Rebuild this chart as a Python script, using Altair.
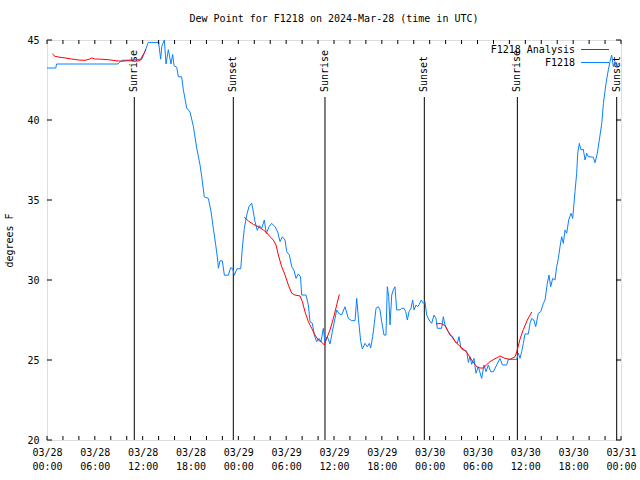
import altair as alt
import pandas as pd

TITLE = "Dew Point for F1218 on 2024-Mar-28 (time in UTC)"
Y_TITLE = "degrees F"
SERIES = ["F1218 Analysis", "F1218"]
COLORS = ["#ff0000", "#0a80ff"]
FONT = "DejaVu Sans Mono"

# hours since 2024-03-28 00:00 UTC
obs_hours = [0.0, 1.1, 1.2, 8.9, 9.1, 9.4, 10.5, 11.9, 12.3, 12.7, 14.0, 14.26, 14.4, 14.72,
             14.93, 15.22, 15.55, 15.76, 15.93, 16.27, 16.48, 16.89, 17.1, 17.52, 17.94, 18.36,
             18.78, 19.19, 19.4, 19.73, 20.24, 20.57, 20.87, 21.16, 21.41, 21.5, 21.7, 21.99,
             22.25, 22.75, 23.04, 23.3, 23.5, 23.83, 24.3, 24.5, 24.75, 25.05, 25.34, 25.67,
             25.8, 26.09, 26.38, 26.63, 26.93, 27.26, 27.51, 27.85, 28.18, 28.6, 28.94, 29.23,
             29.52, 29.86, 30.07, 30.4, 30.7, 30.98, 31.24, 31.53, 31.8, 31.95, 32.49, 32.78,
             32.99, 33.28, 33.53, 33.83, 34.12, 34.37, 34.66, 34.87, 35.16, 35.5, 35.79, 36.04,
             36.34, 36.63, 36.96, 37.38, 37.8, 38.22, 38.64, 38.85, 39.06, 39.35, 39.56, 39.89,
             40.18, 40.43, 40.6, 40.85, 41.06, 41.27, 41.56, 41.77, 41.98, 42.27, 42.52, 42.69,
             42.86, 43.03, 43.24, 43.44, 43.65, 43.86, 44.28, 44.49, 44.78, 45.0, 45.2, 45.41,
             45.66, 45.87, 46.04, 46.29, 46.5, 46.7, 46.95, 47.2, 47.41, 47.63, 47.92, 48.25,
             48.54, 48.79, 48.96, 49.5, 49.71, 49.92, 50.21, 50.55, 50.88, 51.18, 51.47, 51.68,
             51.93, 52.22, 52.64, 52.85, 53.06, 53.27, 53.56, 53.81, 54.1, 54.52, 54.82, 55.07,
             55.36, 55.65, 55.99, 56.41, 56.82, 57.12, 57.66, 57.87, 58.92, 59.12, 59.33, 59.54,
             59.75, 59.96, 60.38, 60.59, 60.8, 61.07, 61.3, 61.63, 61.93, 62.26, 62.47, 62.76,
             62.97, 63.18, 63.43, 63.72, 63.93, 64.14, 64.35, 64.56, 64.77, 64.98, 65.19, 65.44,
             65.73, 65.94, 66.23, 66.44, 66.57, 66.77, 66.98, 67.27, 67.49, 67.7, 67.9, 68.53,
             68.74, 69.03, 69.28, 69.59, 69.79, 70.12, 70.41, 70.62, 70.83, 71.04, 71.25, 71.46,
             71.71]
obs_vals = [43.25, 43.25, 43.5, 43.5, 43.6, 43.73, 43.75, 43.8, 44.3, 44.85, 44.85, 43.8, 44.6, 45.0,
            43.5, 44.4, 43.5, 44.1, 43.4, 43.3, 42.7, 42.7, 41.9, 40.75, 40.5, 39.6,
            38.25, 37.2, 36.5, 35.2, 35.1, 34.3, 33.2, 32.2, 31.25, 30.73, 31.2, 31.2,
            30.3, 30.3, 30.77, 30.7, 30.3, 30.7, 30.7, 32.0, 33.23, 34.06, 34.6, 34.8,
            34.5, 33.65, 33.1, 33.4, 33.23, 33.75, 32.9, 33.33, 33.54, 33.33, 33.0, 32.4,
            32.7, 32.5, 31.77, 31.56, 30.83, 30.6, 30.1, 30.38, 30.2, 29.06, 29.06, 28.44,
            27.4, 27.3, 26.56, 26.14, 26.35, 26.14, 26.98, 26.14, 26.46, 26.0, 26.77, 27.39,
            28.13, 27.9, 27.81, 28.33, 27.6, 27.46, 27.46, 28.85, 27.6, 26.15, 25.69, 26.04,
            25.83, 26.04, 25.75, 26.46, 27.29, 28.23, 28.33, 28.13, 27.4, 26.56, 26.56, 29.58,
            28.96, 27.19, 29.06, 29.38, 29.58, 28.13, 28.13, 28.23, 28.23, 28.02, 27.5, 28.02,
            28.23, 28.75, 28.13, 28.44, 28.33, 28.48, 28.75, 28.54, 28.65, 27.81, 27.5, 27.29,
            27.81, 27.6, 26.98, 26.98, 27.71, 27.19, 26.88, 26.56, 26.46, 26.15, 26.04, 26.46,
            25.73, 25.63, 25.56, 24.85, 25.21, 24.73, 25.1, 24.17, 24.58, 23.85, 24.69, 24.27,
            24.69, 24.27, 24.27, 24.69, 25.1, 24.69, 24.69, 25.04, 25.04, 25.42, 25.1, 25.52,
            26.04, 26.63, 26.63, 27.29, 27.6, 27.5, 27.08, 27.92, 28.02, 28.54, 28.75, 29.79,
            30.31, 29.58, 30.1, 30.0, 30.83, 31.35, 32.08, 32.71, 32.29, 33.13, 32.92, 33.75,
            34.17, 33.85, 35.52, 36.67, 37.92, 38.54, 38.13, 38.17, 37.5, 37.92, 37.71, 37.67,
            37.33, 37.92, 38.75, 39.79, 41.04, 42.29, 43.13, 43.65, 44.06, 43.33, 43.65, 43.33,
            43.54]

ana_hours_1 = [0.67, 1.0, 1.63, 2.26, 3.1, 3.93, 4.77, 5.3, 5.6, 6.0, 6.44, 7.69, 8.53, 9.37,
               10.2, 11.04, 11.67, 12.08, 12.42]
ana_vals_1 = [44.13, 43.98, 43.92, 43.88, 43.81, 43.75, 43.73, 43.8, 43.88, 43.81, 43.81, 43.77,
              43.71, 43.67, 43.71, 43.67, 43.71, 44.1, 44.4]
ana_hours_2 = [24.75, 25.25, 25.88, 26.51, 27.13, 27.51, 27.97, 28.39, 28.73, 29.02, 29.44, 29.86,
               30.27, 30.7, 31.1, 31.74, 32.03, 32.36, 32.78, 33.2, 33.62, 34.03, 34.46, 34.79,
               35.08, 35.5, 35.92, 36.34, 36.67]
ana_vals_2 = [33.92, 33.69, 33.48, 33.33, 33.13, 32.98, 32.71, 32.5, 32.19, 31.56, 30.83, 30.31,
              29.69, 29.17, 29.06, 29.0, 28.65, 28.02, 27.4, 26.98, 26.56, 26.25, 26.1, 25.94,
              26.35, 26.88, 27.6, 28.44, 29.1]
ana_hours_3 = [48.79, 49.38, 49.92, 50.34, 50.76, 51.39, 52.02, 52.64, 53.27, 53.9, 54.32, 54.73,
               55.57, 56.82, 57.45, 58.08, 58.7, 58.92, 59.33, 59.75, 60.25, 60.8]
ana_vals_3 = [27.25, 27.29, 27.15, 26.77, 26.46, 26.04, 25.77, 25.48, 25.0, 24.58, 24.5, 24.5,
              24.9, 25.25, 25.1, 25.04, 25.2, 25.5, 26.3, 26.9, 27.5, 28.0]

sun_hours = [10.95, 23.37, 34.87, 47.33, 59.0, 71.46]
sun_labels = ["Sunrise", "Sunset", "Sunrise", "Sunset", "Sunrise", "Sunset"]

x_label_hours = list(range(0, 73, 6))
x_tick_hours = list(range(0, 73, 2))
y_ticks = [20, 25, 30, 35, 40, 45]

obs_df = pd.DataFrame({"h": obs_hours, "v": obs_vals, "series": SERIES[1], "seg": 0})
ana_df = pd.concat([
    pd.DataFrame({"h": ana_hours_1, "v": ana_vals_1, "seg": 1}),
    pd.DataFrame({"h": ana_hours_2, "v": ana_vals_2, "seg": 2}),
    pd.DataFrame({"h": ana_hours_3, "v": ana_vals_3, "seg": 3}),
])
ana_df["series"] = SERIES[0]
sun_df = pd.DataFrame({"h": sun_hours, "label": sun_labels})
xt_df = pd.DataFrame({"h": x_tick_hours})
yt_df = pd.DataFrame({"v": y_ticks})

xs = alt.Scale(domain=[0, 72], nice=False, zero=False)
ys = alt.Scale(domain=[20, 45], nice=False, zero=False)
cs = alt.Scale(domain=SERIES, range=COLORS)

label_expr = ("['03/' + (28 + floor(datum.value / 24)), "
              "(datum.value % 24 < 10 ? '0' : '') + (datum.value % 24) + ':00']")

x_axis = alt.Axis(values=x_label_hours, labelExpr=label_expr, tickSize=0, domain=False,
                  grid=False, title=None, labelFont=FONT, labelFontSize=10, labelColor="black",
                  labelPadding=7, labelLineHeight=14, labelAngle=0, labelOverlap=False,
                  labelFlush=False)
y_axis = alt.Axis(values=y_ticks, tickSize=0, domain=False, grid=False, title=Y_TITLE,
                  titleFont=FONT, titleFontSize=10, titleFontWeight="normal", titleColor="black",
                  labelFont=FONT, labelFontSize=10, labelColor="black", labelPadding=8,
                  titlePadding=12)

sun_rules = alt.Chart(sun_df).mark_rule(color="black", strokeWidth=1).encode(
    x=alt.X("h:Q", scale=xs, axis=x_axis),
    y=alt.value(57), y2=alt.value(400))
sun_text = alt.Chart(sun_df).mark_text(angle=270, align="left", baseline="middle",
                                       font=FONT, fontSize=10, color="black").encode(
    x=alt.X("h:Q", scale=xs), y=alt.value(52), text="label:N")

obs_line = alt.Chart(obs_df).mark_line(strokeWidth=1).encode(
    x=alt.X("h:Q", scale=xs),
    y=alt.Y("v:Q", scale=ys, axis=y_axis),
    color=alt.Color("series:N", scale=cs, legend=None))
ana_line = alt.Chart(ana_df).mark_line(strokeWidth=1).encode(
    x=alt.X("h:Q", scale=xs),
    y=alt.Y("v:Q", scale=ys),
    color=alt.Color("series:N", scale=cs, legend=None),
    detail="seg:N")

tick_b = alt.Chart(xt_df).mark_rule(color="black").encode(
    x=alt.X("h:Q", scale=xs), y=alt.value(400), y2=alt.value(396))
tick_t = alt.Chart(xt_df).mark_rule(color="black").encode(
    x=alt.X("h:Q", scale=xs), y=alt.value(0), y2=alt.value(4))
tick_l = alt.Chart(yt_df).mark_rule(color="black").encode(
    y=alt.Y("v:Q", scale=ys), x=alt.value(0), x2=alt.value(5))
tick_r = alt.Chart(yt_df).mark_rule(color="black").encode(
    y=alt.Y("v:Q", scale=ys), x=alt.value(574), x2=alt.value(569))

leg_df = pd.DataFrame({"series": SERIES})
leg_text_a = alt.Chart(leg_df.iloc[[0]]).mark_text(align="right", baseline="middle", font=FONT,
                                                    fontSize=10, color="black").encode(
    x=alt.value(528), y=alt.value(10), text="series:N")
leg_text_b = alt.Chart(leg_df.iloc[[1]]).mark_text(align="right", baseline="middle", font=FONT,
                                                    fontSize=10, color="black").encode(
    x=alt.value(528), y=alt.value(23), text="series:N")
leg_line_a = alt.Chart(leg_df.iloc[[0]]).mark_rule(strokeWidth=1).encode(
    x=alt.value(534), x2=alt.value(562), y=alt.value(9.5),
    color=alt.Color("series:N", scale=cs, legend=None))
leg_line_b = alt.Chart(leg_df.iloc[[1]]).mark_rule(strokeWidth=1).encode(
    x=alt.value(534), x2=alt.value(562), y=alt.value(22.5),
    color=alt.Color("series:N", scale=cs, legend=None))

chart = alt.layer(
    sun_rules, sun_text, obs_line, ana_line, tick_b, tick_t, tick_l, tick_r,
    leg_line_a, leg_line_b, leg_text_a, leg_text_b
).properties(
    width=574, height=400,
    title=alt.TitleParams(TITLE, font=FONT, fontSize=10, fontWeight="normal", color="black",
                          offset=11, anchor="middle"),
    autosize=alt.AutoSizeParams(type="none"),
    padding={"left": 47, "top": 40, "right": 19, "bottom": 40},
).configure_view(stroke="black", strokeWidth=1).configure(background="white")

chart.save("out.html", embed_options={"renderer": "svg", "actions": False})
